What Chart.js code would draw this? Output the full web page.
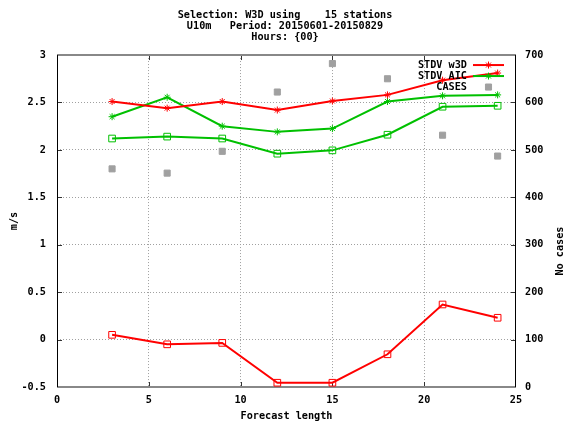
<!DOCTYPE html>
<html><head><meta charset="utf-8">
<script src="https://cdn.jsdelivr.net/npm/chart.js@4/dist/chart.umd.min.js"></script>
<style>html,body{margin:0;padding:0;background:#fff;overflow:hidden}canvas{display:block}</style>
</head><body>
<canvas id="c" width="563" height="423"></canvas>
<script>
// ---- data ----
const forecastHours = [3, 6, 9, 12, 15, 18, 21, 24];
const stdvW3D = [2.51, 2.44, 2.51, 2.42, 2.515, 2.58, 2.735, 2.81];
const stdvAIC = [2.35, 2.555, 2.25, 2.19, 2.225, 2.51, 2.57, 2.58];
const biasW3D = [0.05, -0.05, -0.035, -0.455, -0.455, -0.155, 0.37, 0.23];
const biasAIC = [2.12, 2.14, 2.12, 1.96, 1.995, 2.16, 2.455, 2.465];
const cases = [460, 451, 497, 622, 682, 650, 531, 487];
const seriesLabels = ['STDV w3D', 'STDV AIC', 'BIAS w3D', 'BIAS AIC', 'CASES'];
const titleLines = ['Selection: W3D using    15 stations', 'U10m   Period: 20150601-20150829', 'Hours: {00}'];
const xLabel = 'Forecast length';
const yLabel = 'm/s';
const y2Label = 'No cases';

const FONT = '"DejaVu Sans Mono", "Liberation Mono", monospace';
const FS = 10.2;
const RED = '#ff0000', GREEN = '#00c000', GREY = '#a0a0a0';
const pts = arr => forecastHours.map((h, i) => ({x: h, y: arr[i]}));

function drawMarker(ctx, style, r, x, y) {
  ctx.beginPath();
  if (style === 'star') {
    ctx.moveTo(x - r, y); ctx.lineTo(x + r, y);
    ctx.moveTo(x, y - r); ctx.lineTo(x, y + r);
    const d = r * Math.SQRT1_2;
    ctx.moveTo(x - d, y - d); ctx.lineTo(x + d, y + d);
    ctx.moveTo(x - d, y + d); ctx.lineTo(x + d, y - d);
    ctx.stroke();
  } else {
    const s = r * Math.SQRT1_2;
    ctx.rect(x - s, y - s, 2 * s, 2 * s);
    ctx.fill(); ctx.stroke();
  }
}

const framePlugin = {
  id: 'frame',
  beforeDatasetsDraw(chart) {
    const {ctx, chartArea: ca, scales} = chart;
    ctx.save();
    // inward tick marks
    ctx.strokeStyle = '#333'; ctx.lineWidth = 1;
    ctx.beginPath();
    scales.x.ticks.forEach(t => {
      if (t.value <= scales.x.min || t.value >= scales.x.max) return;
      const px = Math.round(scales.x.getPixelForValue(t.value)) + 0.5;
      ctx.moveTo(px, ca.bottom); ctx.lineTo(px, ca.bottom - 5);
      ctx.moveTo(px, ca.top); ctx.lineTo(px, ca.top + 5);
    });
    scales.y.ticks.forEach(t => {
      if (t.value <= scales.y.min || t.value >= scales.y.max) return;
      const py = Math.round(scales.y.getPixelForValue(t.value)) + 0.5;
      ctx.moveTo(ca.left, py); ctx.lineTo(ca.left + 5, py);
    });
    scales.y1.ticks.forEach(t => {
      if (t.value <= scales.y1.min || t.value >= scales.y1.max) return;
      const py = Math.round(scales.y1.getPixelForValue(t.value)) + 0.5;
      ctx.moveTo(ca.right, py); ctx.lineTo(ca.right - 5, py);
    });
    ctx.stroke();
    // border
    ctx.strokeStyle = '#888'; ctx.lineWidth = 2;
    ctx.beginPath();
    ctx.moveTo(ca.left, ca.top); ctx.lineTo(ca.right, ca.top);
    ctx.moveTo(ca.left, ca.bottom); ctx.lineTo(ca.right, ca.bottom);
    ctx.stroke();
    ctx.strokeStyle = '#000'; ctx.lineWidth = 1;
    ctx.beginPath();
    ctx.moveTo(Math.round(ca.left) + 0.5, ca.top); ctx.lineTo(Math.round(ca.left) + 0.5, ca.bottom);
    ctx.moveTo(Math.round(ca.right) - 0.5, ca.top); ctx.lineTo(Math.round(ca.right) - 0.5, ca.bottom);
    ctx.stroke();
    ctx.restore();
  },
  afterDatasetsDraw(chart) {
    const {ctx, chartArea: ca} = chart;
    ctx.save();
    ctx.font = 'bold ' + FS + 'px ' + FONT;
    ctx.fillStyle = '#000';
    // key
    ctx.textAlign = 'right'; ctx.textBaseline = 'middle';
    chart.data.datasets.filter(d => d.inKey).forEach((d, i) => {
      const y = ca.top + 10 + i * 11;
      ctx.fillStyle = '#000';
      ctx.fillText(d.label, ca.right - 49, y);
      const x0 = ca.right - 43, x1 = ca.right - 12;
      if (d.showLine !== false) {
        ctx.strokeStyle = d.borderColor; ctx.lineWidth = d.borderWidth;
        ctx.beginPath(); ctx.moveTo(x0, y); ctx.lineTo(x1, y); ctx.stroke();
      }
      ctx.strokeStyle = d.pointBorderColor; ctx.fillStyle = d.pointBackgroundColor;
      ctx.lineWidth = d.pointBorderWidth;
      drawMarker(ctx, d.pointStyle, d.pointRadius, (x0 + x1) / 2, y);
    });
    // right axis title (reads bottom to top)
    ctx.fillStyle = '#000';
    ctx.translate(560, ca.top + 196);
    ctx.rotate(-Math.PI / 2);
    ctx.textAlign = 'center';
    ctx.fillText(y2Label, 0, 0);
    ctx.restore();
  }
};

const gridColor = (lo, hi) => c => (c.tick && (c.tick.value <= lo || c.tick.value >= hi)) ? 'rgba(0,0,0,0)' : GREY;
const tickFont = {family: FONT, size: FS, weight: 'bold'};
const plainNum = v => String(Math.round(v * 1000) / 1000);

new Chart(document.getElementById('c'), {
  type: 'line',
  data: {
    datasets: [
      {label: seriesLabels[0], data: pts(stdvW3D), inKey: true, borderColor: RED, borderWidth: 2,
       pointStyle: 'star', pointRadius: 3.5, pointBorderColor: RED, pointBackgroundColor: RED, pointBorderWidth: 1, yAxisID: 'y'},
      {label: seriesLabels[1], data: pts(stdvAIC), inKey: true, borderColor: GREEN, borderWidth: 2,
       pointStyle: 'star', pointRadius: 3.5, pointBorderColor: GREEN, pointBackgroundColor: GREEN, pointBorderWidth: 1, yAxisID: 'y'},
      {label: seriesLabels[2], data: pts(biasW3D), inKey: false, borderColor: RED, borderWidth: 2,
       pointStyle: 'rect', pointRadius: 4.7, pointBorderColor: RED, pointBackgroundColor: 'rgba(0,0,0,0)', pointBorderWidth: 1, yAxisID: 'y'},
      {label: seriesLabels[3], data: pts(biasAIC), inKey: false, borderColor: GREEN, borderWidth: 2,
       pointStyle: 'rect', pointRadius: 4.7, pointBorderColor: GREEN, pointBackgroundColor: 'rgba(0,0,0,0)', pointBorderWidth: 1, yAxisID: 'y'},
      {label: seriesLabels[4], data: pts(cases), inKey: true, showLine: false, borderColor: GREY, borderWidth: 0,
       pointStyle: 'rect', pointRadius: 4.3, pointBorderColor: GREY, pointBackgroundColor: GREY, pointBorderWidth: 1, yAxisID: 'y1'}
    ]
  },
  options: {
    responsive: false, animation: false, devicePixelRatio: 1,
    layout: {padding: {left: 7, right: 0, top: 0, bottom: 0}},
    elements: {line: {tension: 0, fill: false}},
    plugins: {
      legend: {display: false},
      tooltip: {enabled: false},
      title: {display: true, text: titleLines, color: '#000',
              font: {family: FONT, size: FS, weight: 'bold', lineHeight: 1.08},
              padding: {top: 9.5, bottom: 12.5}}
    },
    scales: {
      x: {type: 'linear', position: 'bottom', min: 0, max: 25,
          ticks: {stepSize: 5, color: '#000', font: tickFont, padding: 7, maxRotation: 0, callback: plainNum},
          grid: {color: gridColor(0, 25), drawTicks: false, lineWidth: 1},
          border: {display: false, dash: [1, 2]},
          title: {display: true, text: xLabel, color: '#000', font: {family: FONT, size: FS, weight: 'bold', lineHeight: 1.2}, padding: {top: 0, bottom: 0.5}},
          afterFit(s) { s.height = 36; }},
      y: {type: 'linear', position: 'left', min: -0.5, max: 3,
          ticks: {stepSize: 0.5, color: '#000', font: tickFont, padding: 11, callback: plainNum},
          grid: {color: gridColor(-0.5, 3), drawTicks: false, lineWidth: 1},
          border: {display: false, dash: [1, 2]},
          title: {display: true, text: yLabel, color: '#000', font: {family: FONT, size: FS, weight: 'bold', lineHeight: 1.2}, padding: {top: 1.5, bottom: 0}},
          afterFit(s) { s.width = 50; }},
      y1: {type: 'linear', position: 'right', min: 0, max: 700,
          ticks: {stepSize: 100, color: '#000', font: tickFont, padding: 9, callback: plainNum},
          grid: {display: false, drawTicks: false},
          border: {display: false},
          afterFit(s) { s.width = 47; }}
    }
  },
  plugins: [framePlugin]
});
</script>
</body></html>
